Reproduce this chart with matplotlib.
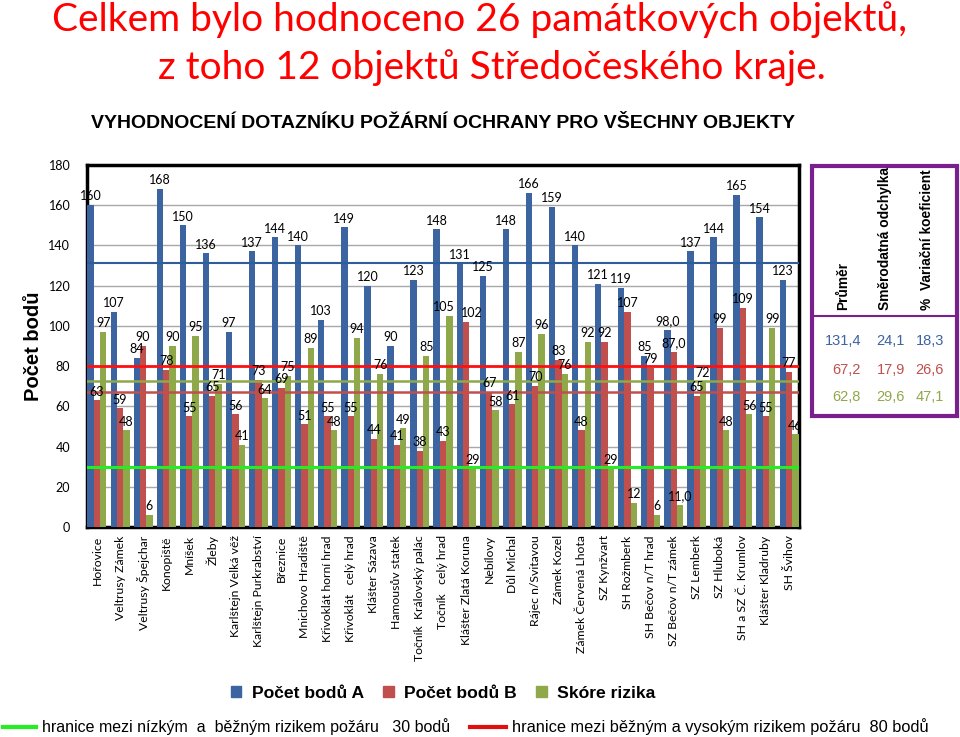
import matplotlib.pyplot as plt
import numpy as np
from matplotlib.lines import Line2D
from matplotlib.patches import Rectangle, Patch

objekty = ['Hořovice', 'Veltrusy Zámek', 'Veltrusy Špejchar', 'Konopiště', 'Mníšek', 'Žleby',
           'Karlštejn Velká věž', 'Karlštejn Purkrabství', 'Březnice', 'Mnichovo Hradiště',
           'Křivoklát horní hrad', 'Křivoklát   celý hrad', 'Klášter Sázava', 'Hamousův statek',
           'Točník  Královský palác', 'Točník   celý hrad', 'Klášter Zlatá Koruna', 'Nebílovy',
           'Důl Michal', 'Rájec n/Svitavou', 'Zámek Kozel', 'Zámek Červená Lhota', 'SZ Kynžvart',
           'SH Rožmberk', 'SH Bečov n/T hrad', 'SZ Bečov n/T zámek', 'SZ Lemberk', 'SZ Hluboká',
           'SH a SZ Č. Krumlov', 'Klášter Kladruby', 'SH Švihov']
body_a = [160, 107, 84, 168, 150, 136, 97, 137, 144, 140, 103, 149, 120, 90, 123, 148, 131, 125,
          148, 166, 159, 140, 121, 119, 85, 98.0, 137, 144, 165, 154, 123]
body_b = [63, 59, 90, 78, 55, 65, 56, 73, 69, 51, 55, 55, 44, 41, 38, 43, 102, 67,
          61, 70, 83, 48, 92, 107, 79, 87.0, 65, 99, 109, 55, 77]
skore = [97, 48, 6, 90, 95, 71, 41, 64, 75, 89, 48, 94, 76, 49, 85, 105, 29, 58,
         87, 96, 76, 92, 29, 12, 6, 11.0, 72, 48, 56, 99, 46]
# objekt s hodnotami psanymi s desetinnou carkou
desetinne = [25]

prumer_a = 131.4
prumer_b = 67.2
prumer_c = 72.6
hranice_nizke = 30
hranice_vysoke = 80

stat_hlavicky = ['Průměr', 'Směrodatná odchylka', '%  Variační koeficient']
stat_radky = [['131,4', '24,1', '18,3'], ['67,2', '17,9', '26,6'], ['62,8', '29,6', '47,1']]

c_a = '#3C64A0'
c_b = '#C0504D'
c_c = '#8FA84A'
fam = ['Lato', 'DejaVu Sans']
arial = ['Liberation Sans', 'DejaVu Sans']

W, H = 960, 737


def fx(x):
    return x / W


def fy(y):
    return 1 - y / H


def fmt(v, i):
    if i in desetinne:
        return '{:.1f}'.format(v).replace('.', ',')
    return '{:d}'.format(int(v))


fig = plt.figure(figsize=(9.6, 7.37), dpi=100)
ax = fig.add_axes([fx(87), fy(527), fx(799) - fx(87), fy(165) - fy(527)])

x = np.arange(len(objekty))
w = 0.275
ba = ax.bar(x - w, body_a, w, color=c_a, zorder=3)
bb = ax.bar(x, body_b, w, color=c_b, zorder=3)
bc = ax.bar(x + w, skore, w, color=c_c, zorder=3)
popisky = []
for bars, vals in [(ba, body_a), (bb, body_b), (bc, skore)]:
    popisky.append(ax.bar_label(bars, labels=[fmt(v, i) for i, v in enumerate(vals)], padding=2,
                                fontsize=9, family=fam, zorder=5))
# 105 a 102 by se prekryvaly - trochu je odsunout
popisky[2][15].xyann = (-4, 2)
popisky[1][16].xyann = (4, 2)

ax.axhline(prumer_a, color='#2F5C9A', lw=1.5, zorder=4)
ax.axhline(hranice_vysoke, color='#FF1010', lw=2, zorder=4)
ax.axhline(prumer_c, color=c_c, lw=1.8, zorder=4)
ax.axhline(prumer_b, color=c_b, lw=1.8, zorder=4)
ax.axhline(hranice_nizke, color='#22EE22', lw=2.2, zorder=4)

ax.set_ylim(0, 180)
ax.set_xlim(-1.5 * w - 0.02, len(objekty) - 1 + 1.5 * w + 0.02)
ax.set_yticks(range(0, 181, 20))
ax.yaxis.grid(True, color='#A8A8A8', lw=1, zorder=0)
ax.tick_params(axis='y', length=0, pad=12, labelsize=9)
for t in ax.get_yticklabels():
    t.set_family(fam)
ax.set_xticks(x)
ax.set_xticklabels(objekty, rotation=90, fontsize=8.8, family=fam, va='top')
ax.tick_params(axis='x', length=0, pad=6)
for s in ax.spines.values():
    s.set_linewidth(2.5)
ax.set_ylabel('Počet bodů', fontsize=14.5, fontweight='bold', family=arial, labelpad=4)

# nadpisy
fig.text(0.5, fy(20), 'Celkem bylo hodnoceno 26 památkových objektů,', color='#FF0000',
         fontsize=28, family=fam, ha='center', va='center')
fig.text(fx(492), fy(68), 'z toho 12 objektů Středočeského kraje.', color='#FF0000',
         fontsize=28, family=fam, ha='center', va='center')
fig.text(fx(443), fy(123), 'VYHODNOCENÍ DOTAZNÍKU POŽÁRNÍ OCHRANY PRO VŠECHNY OBJEKTY',
         fontsize=14, fontweight='bold', family=arial, ha='center', va='center')

# tabulka statistik
fig.add_artist(Rectangle((fx(812), fy(416)), fx(957) - fx(812), fy(166) - fy(416),
                         transform=fig.transFigure, fill=False, edgecolor='#7A1F8E', lw=3))
fig.add_artist(Line2D([fx(812), fx(957)], [fy(316), fy(316)], color='#7A1F8E', lw=1.5))
for hx, h in zip([843, 885, 927], stat_hlavicky):
    fig.text(fx(hx), fy(310), h, rotation=90, fontsize=9.9, fontweight='bold',
             family=arial, ha='center', va='bottom')
for ry, radek, col in zip([341, 370, 397], stat_radky, [c_a, c_b, c_c]):
    for rx, val in zip([861, 905, 944], radek):
        fig.text(fx(rx), fy(ry), val, fontsize=10.5, color=col,
                 family=arial, ha='right', va='center')

# legenda
handles = [Patch(color=c_a), Patch(color=c_b), Patch(color=c_c)]
fig.legend(handles, ['Počet bodů A', 'Počet bodů B', 'Skóre rizika'], ncol=3,
           loc='center', bbox_to_anchor=(fx(443), fy(693)), frameon=False,
           handlelength=0.6, handleheight=0.6, handletextpad=0.6, columnspacing=1.1,
           prop={'family': arial, 'weight': 'bold', 'size': 12.6})

fig.add_artist(Line2D([fx(3), fx(36)], [fy(727), fy(727)], color='#22EE22', lw=3))
fig.text(fx(42), fy(727), 'hranice mezi nízkým  a  běžným rizikem požáru   30 bodů', fontsize=11.5,
         family=arial, ha='left', va='center')
fig.add_artist(Line2D([fx(470), fx(506)], [fy(727), fy(727)], color='#E01010', lw=3))
fig.text(fx(512), fy(727), 'hranice mezi běžným a vysokým rizikem požáru  80 bodů', fontsize=11.8,
         family=arial, ha='left', va='center')

plt.savefig('out.png', dpi=100)
